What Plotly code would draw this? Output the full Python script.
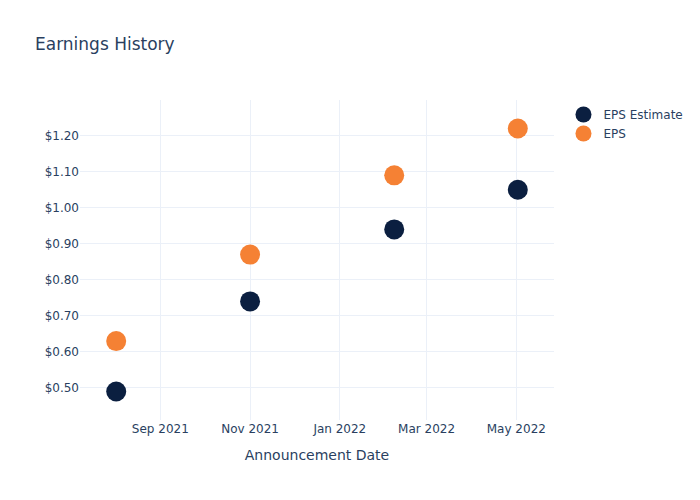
import plotly.graph_objects as go

dates = ["2021-08-02", "2021-11-01", "2022-02-07", "2022-05-02"]
eps_estimate = [0.49, 0.74, 0.94, 1.05]
eps_actual = [0.63, 0.87, 1.09, 1.22]

fig = go.Figure()
fig.add_trace(go.Scatter(x=dates, y=eps_estimate, mode="markers", name="EPS Estimate",
                         marker=dict(color="#0b1f40", size=20)))
fig.add_trace(go.Scatter(x=dates, y=eps_actual, mode="markers", name="EPS",
                         marker=dict(color="#f58134", size=20)))
fig.update_layout(
    template="plotly_white",
    width=700, height=500,
    font=dict(family="DejaVu Sans"),
    title=dict(text="Earnings History"),
    xaxis=dict(title=dict(text="Announcement Date")),
    yaxis=dict(tickformat="$.2f", dtick=0.1),
)
fig.write_html("out.html")
